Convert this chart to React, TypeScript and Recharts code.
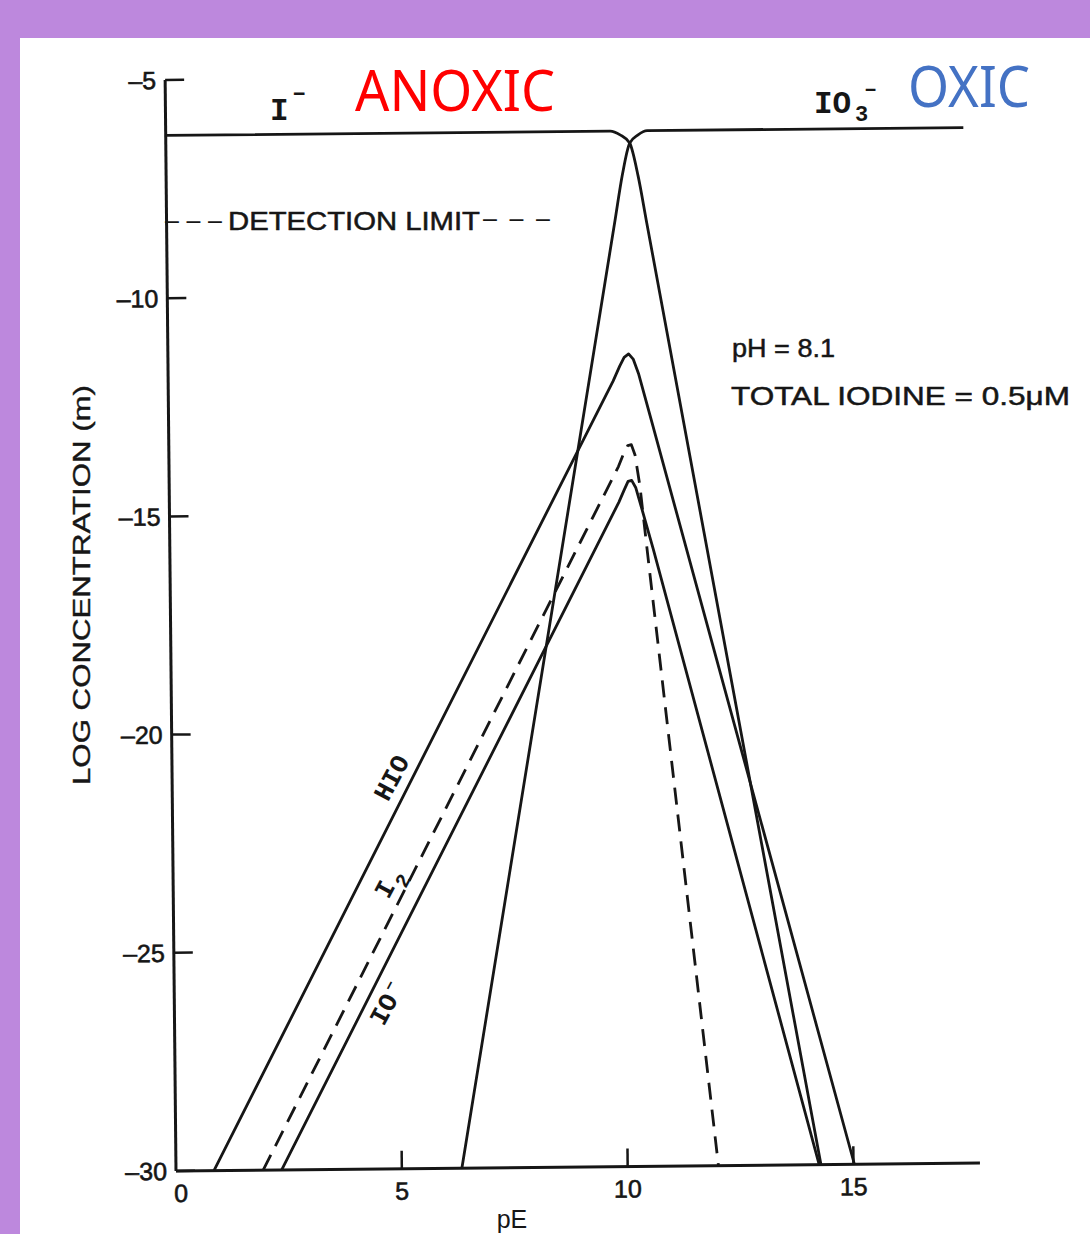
import { LineChart, Line, XAxis, YAxis } from 'recharts';

// pE values and log concentrations for each iodine species (pH 8.1, total I = 0.5 uM)
const iodidePE = [0, 9.84, 10.06, 10.27, 10.45, 10.62, 14.28];
const iodideLog = [-6.27, -6.27, -6.36, -6.55, -7.31, -8.32, -30];

const iodatePE = [6.33, 9.93, 10.1, 10.27, 10.45, 10.66, 17.66];
const iodateLog = [-30, -8.31, -7.28, -6.55, -6.37, -6.27, -6.27];

const hioPE = [0.84, 9.85, 10.0, 10.1, 10.2, 10.3, 10.42, 10.7, 15.02];
const hioLog = [-30, -12.0, -11.66, -11.46, -11.38, -11.5, -11.85, -12.95, -30];

const i2PE = [1.93, 9.95, 10.07, 10.16, 10.24, 10.32, 10.42, 10.6, 12.01];
const i2Log = [-30, -13.96, -13.66, -13.48, -13.46, -13.7, -14.4, -16.2, -30];

const hypoiodPE = [2.34, 9.95, 10.07, 10.16, 10.24, 10.33, 10.45, 10.7, 14.24];
const hypoiodLog = [-30, -14.78, -14.5, -14.3, -14.28, -14.45, -14.9, -15.85, -30];

const peTicks = [0, 5, 10, 15];
const logTicks = [-30, -25, -20, -15, -10, -5];

const INK = '#161616';
const SANS = '"Liberation Sans", Arial, sans-serif';
const MONO = '"Liberation Mono", "DejaVu Sans Mono", monospace';

function zip(xs: number[], ys: number[]) {
  return xs.map((x, i) => ({ pe: x, log: ys[i] }));
}

const dash = (v: number) => String(v).replace('-', '\u2013');

function YTick(props: any) {
  const { x, y, payload } = props;
  return (
    <g>
      <line x1={x + 9} x2={x + 28} y1={y} y2={y} stroke={INK} strokeWidth={2.5} />
      <text x={x} y={y + 9} textAnchor="end" fontFamily={SANS} fontSize={25} fill={INK} stroke={INK} strokeWidth={0.6}>
        {dash(payload.value)}
      </text>
    </g>
  );
}

function XTick(props: any) {
  const { x, y, payload } = props;
  return (
    <g>
      {payload.value !== 0 && (
        <line x1={x} x2={x} y1={y - 8} y2={y - 26} stroke={INK} strokeWidth={2.5} />
      )}
      <text x={payload.value === 0 ? x + 5 : x} y={y + 23} textAnchor="middle" fontFamily={SANS} fontSize={25} fill={INK} stroke={INK} strokeWidth={0.6}>
        {payload.value}
      </text>
    </g>
  );
}

export default function App() {
  const lineProps = {
    dataKey: 'log',
    stroke: INK,
    strokeWidth: 2.8,
    dot: false,
    activeDot: false,
    isAnimationActive: false,
  };

  return (
    <div style={{ position: 'absolute', left: 0, top: 0, width: 1090, height: 1234, overflow: 'hidden', background: '#BD88DD' }}>
      <div style={{ position: 'absolute', left: 20, top: 38, right: 0, bottom: 0, background: '#ffffff' }} />
      <div style={{ position: 'absolute', left: 0, top: 0, transform: 'rotate(-0.57deg)', transformOrigin: '176px 1171px' }}>
        <LineChart width={1090} height={1234} margin={{ top: 80, left: 96, right: 110, bottom: 23 }}>
          <XAxis
            type="number"
            dataKey="pe"
            domain={[0, 17.8]}
            ticks={peTicks}
            height={40}
            tickSize={0}
            tickMargin={8}
            tick={<XTick />}
            axisLine={{ stroke: INK, strokeWidth: 3 }}
            allowDataOverflow
          />
          <YAxis
            type="number"
            domain={[-30, -5]}
            ticks={logTicks}
            width={80}
            tickSize={0}
            tickMargin={9}
            tick={<YTick />}
            axisLine={{ stroke: INK, strokeWidth: 3 }}
            allowDataOverflow
          />
          <Line {...lineProps} type="monotone" data={zip(iodidePE, iodideLog)} />
          <Line {...lineProps} type="monotone" data={zip(iodatePE, iodateLog)} />
          <Line {...lineProps} type="linear" strokeLinejoin="round" data={zip(hioPE, hioLog)} />
          <Line {...lineProps} type="linear" strokeLinejoin="round" data={zip(i2PE, i2Log)} strokeDasharray="17 10" />
          <Line {...lineProps} type="linear" strokeLinejoin="round" data={zip(hypoiodPE, hypoiodLog)} />
        </LineChart>
      </div>
      <svg width={1090} height={1234} style={{ position: 'absolute', left: 0, top: 0, pointerEvents: 'none' }}>
        <text x={355} y={111} fontFamily='"Noto Sans", sans-serif' fontSize={56} fill="#FF0000" textLength={200} lengthAdjust="spacingAndGlyphs">ANOXIC</text>
        <text x={908} y={107} fontFamily='"Noto Sans", sans-serif' fontSize={56} fill="#4472C4" textLength={122} lengthAdjust="spacingAndGlyphs">OXIC</text>

        <text x={270} y={120} fontFamily={MONO} fontSize={31} fontWeight="bold" fill={INK}>I</text>
        <text x={292} y={100} fontFamily={MONO} fontSize={24} fontWeight="bold" fill={INK}>{'\u2013'}</text>
        <text x={814} y={113} fontFamily={MONO} fontSize={31} fontWeight="bold" fill={INK}>IO</text>
        <text x={855} y={121} fontFamily={MONO} fontSize={22} fontWeight="bold" fill={INK}>3</text>
        <text x={864} y={96} fontFamily={MONO} fontSize={22} fontWeight="bold" fill={INK}>{'\u2013'}</text>

        <text x={165} y={229} fontFamily={SANS} fontSize={25} fill={INK} textLength={57} lengthAdjust="spacing">{'\u2013\u2013\u2013'}</text>
        <text x={228} y={230} fontFamily={SANS} fontSize={25} fill={INK} stroke={INK} strokeWidth={0.5} textLength={252} lengthAdjust="spacingAndGlyphs">DETECTION LIMIT</text>
        <text x={483} y={227} fontFamily={SANS} fontSize={25} fill={INK} textLength={67} lengthAdjust="spacing">{'\u2013\u2013\u2013'}</text>

        <text x={732} y={357} fontFamily={SANS} fontSize={26} fill={INK} stroke={INK} strokeWidth={0.5} textLength={103} lengthAdjust="spacingAndGlyphs">pH = 8.1</text>
        <text x={731} y={405} fontFamily={SANS} fontSize={26} fill={INK} stroke={INK} strokeWidth={0.5} textLength={339} lengthAdjust="spacingAndGlyphs">TOTAL IODINE = 0.5{'\u03bc'}M</text>

        <g transform="translate(392,778) rotate(-62)">
          <text x={0} y={8} textAnchor="middle" fontFamily={MONO} fontSize={26} fontWeight="bold" fill={INK}>HIO</text>
        </g>
        <g transform="translate(388,884) rotate(-62)">
          <text x={-6} y={8} textAnchor="middle" fontFamily={MONO} fontSize={26} fontWeight="bold" fill={INK}>I</text>
          <text x={10} y={18} textAnchor="middle" fontFamily={MONO} fontSize={20} fontWeight="bold" fill={INK}>2</text>
        </g>
        <g transform="translate(386,1006) rotate(-62)">
          <text x={-4} y={8} textAnchor="middle" fontFamily={MONO} fontSize={26} fontWeight="bold" fill={INK}>IO</text>
          <text x={20} y={-2} textAnchor="middle" fontFamily={MONO} fontSize={18} fontWeight="bold" fill={INK}>{'\u2013'}</text>
        </g>

        <g transform="translate(90,585) rotate(-90)">
          <text x={0} y={0} textAnchor="middle" fontFamily={SANS} fontSize={24} fill={INK} stroke={INK} strokeWidth={0.4} textLength={400} lengthAdjust="spacingAndGlyphs">LOG CONCENTRATION (m)</text>
        </g>
        <text x={512} y={1228} textAnchor="middle" fontFamily={SANS} fontSize={25} fill={INK}>pE</text>
      </svg>
    </div>
  );
}
